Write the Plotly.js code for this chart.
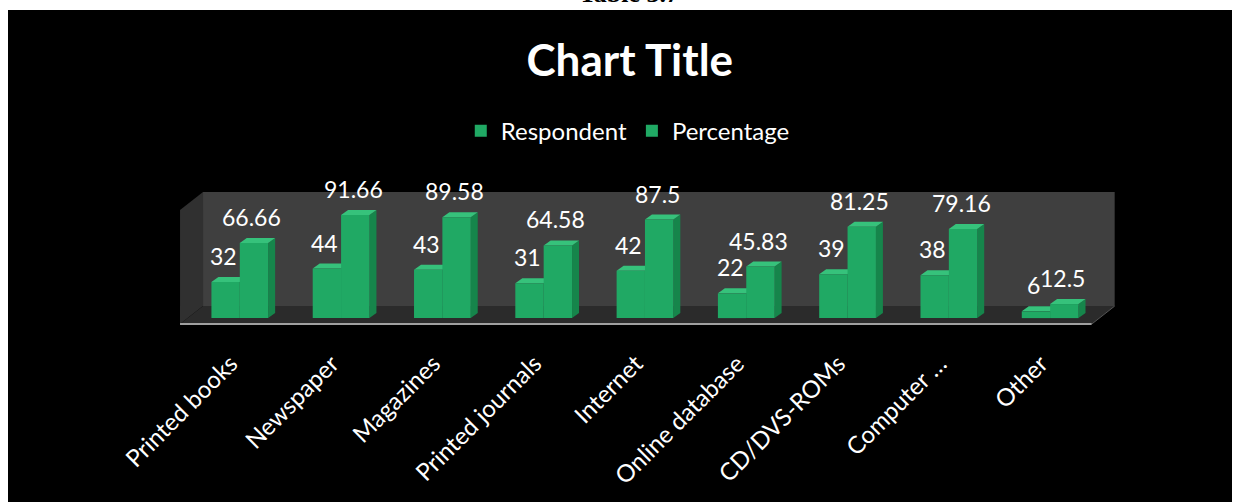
<!DOCTYPE html>
<html>
<head>
<meta charset="utf-8">
<script src="https://cdn.plot.ly/plotly-3.0.1.min.js"></script>
<style>
  html, body { margin: 0; padding: 0; background: #ffffff; width: 1240px; height: 502px; overflow: hidden; }
  #caption { position: absolute; left: 0; width: 1258px; top: -19px; text-align: center;
    font-family: "Liberation Serif", "Times New Roman", serif; font-weight: bold; font-size: 26px; line-height: 26px; color: #000; z-index: 0; }
  #chart { position: absolute; left: 8px; top: 10px; width: 1224px; height: 492px; z-index: 1; }
</style>
</head>
<body>
<div id="caption">Table 3.7</div>
<div id="chart"></div>
<script>
// ---- data ----
const categories = ['Printed books', 'Newspaper', 'Magazines', 'Printed journals', 'Internet',
                    'Online database', 'CD/DVS-ROMs', 'Computer …', 'Other'];
const respondent = [32, 44, 43, 31, 42, 22, 39, 38, 6];
const percentage = [66.66, 91.66, 89.58, 64.58, 87.5, 45.83, 81.25, 79.16, 12.5];
const seriesNames = ['Respondent', 'Percentage'];

// ---- style ----
const FONT = 'Lato, "Open Sans", sans-serif';
const frontColor = '#20a964';
const topColor = '#36c27b';
const sideColor = '#16854b';
const barWidth = 0.28;
const offsets = [-0.19, 0.09];
const depthX = 0.069, depthY = 4.44;

const idx = categories.map((_, i) => i);

const traces = [respondent, percentage].map((vals, s) => ({
  type: 'bar',
  name: seriesNames[s],
  x: idx,
  y: vals,
  offset: offsets[s],
  width: barWidth,
  marker: { color: frontColor, line: { width: 0 } },
  hoverinfo: 'skip'
}));

// 3D box (walls + floor)
const shapes = [
  { type: 'rect', xref: 'x', yref: 'y', x0: -0.273, x1: 8.727, y0: 10.67, y1: 112,
    fillcolor: '#3f3f3f', line: { width: 0 }, layer: 'below' },
  { type: 'path', xref: 'x', yref: 'y', path: 'M -0.5,-5.33 L -0.5,96 L -0.273,112 L -0.273,10.67 Z',
    fillcolor: '#303030', line: { width: 0 }, layer: 'below' },
  { type: 'path', xref: 'x', yref: 'y', path: 'M -0.5,-5.33 L 8.5,-5.33 L 8.727,10.67 L -0.273,10.67 Z',
    fillcolor: '#2b2b2b', line: { width: 0 }, layer: 'below' },
  { type: 'line', xref: 'x', yref: 'y', x0: -0.5, x1: 8.5, y0: -5.33, y1: -5.33,
    line: { color: '#a0a0a0', width: 2 }, layer: 'below' },
  { type: 'line', xref: 'x', yref: 'y', x0: 8.5, x1: 8.727, y0: -5.33, y1: 10.67,
    line: { color: '#555555', width: 1 }, layer: 'below' }
];

// bar tops and sides, computed from the data
const annotations = [];
[respondent, percentage].forEach((vals, s) => {
  vals.forEach((v, i) => {
    const x0 = i + offsets[s], x1 = x0 + barWidth;
    shapes.push({ type: 'path', xref: 'x', yref: 'y', layer: 'below', line: { width: 0 }, fillcolor: sideColor,
      path: `M ${x1},0 L ${x1},${v} L ${x1 + depthX},${v + depthY} L ${x1 + depthX},${depthY} Z` });
    shapes.push({ type: 'path', xref: 'x', yref: 'y', layer: 'below', line: { width: 0 }, fillcolor: topColor,
      path: `M ${x0},${v} L ${x1},${v} L ${x1 + depthX},${v + depthY} L ${x0 + depthX},${v + depthY} Z` });
    annotations.push({ x: x0 + barWidth / 2, y: v, xref: 'x', yref: 'y', text: String(v),
      showarrow: false, yshift: 26, xshift: -2, font: { family: FONT, size: 23, color: '#ffffff' } });
  });
});

const layout = {
  width: 1224, height: 492,
  paper_bgcolor: '#000000', plot_bgcolor: 'rgba(0,0,0,0)',
  margin: { l: 170, r: 115, t: 182, b: 176, pad: 0 },
  font: { family: FONT, color: '#ffffff' },
  title: { text: '<b>Chart Title</b>', x: 0.508, xref: 'container', xanchor: 'center',
           y: 0.898, yref: 'container', yanchor: 'middle',
           font: { family: FONT, size: 44, color: '#ffffff' } },
  barmode: 'overlay',
  showlegend: true,
  legend: { orientation: 'h', x: 0.479, xanchor: 'center', y: 1.455, yanchor: 'middle',
            font: { family: FONT, size: 24, color: '#ffffff' }, bgcolor: 'rgba(0,0,0,0)', traceorder: 'normal' },
  xaxis: { range: [-0.52, 8.75], tickmode: 'array', tickvals: idx, ticktext: categories, tickangle: -45,
           showgrid: false, zeroline: false, showline: false, ticks: '', ticklabelstandoff: 18,
           tickfont: { family: FONT, size: 24, color: '#ffffff' }, fixedrange: true },
  yaxis: { range: [-7, 112], visible: false, showgrid: false, zeroline: false, fixedrange: true },
  shapes: shapes,
  annotations: annotations
};

Plotly.newPlot('chart', traces, layout, { displayModeBar: false, staticPlot: true });
</script>
</body>
</html>
